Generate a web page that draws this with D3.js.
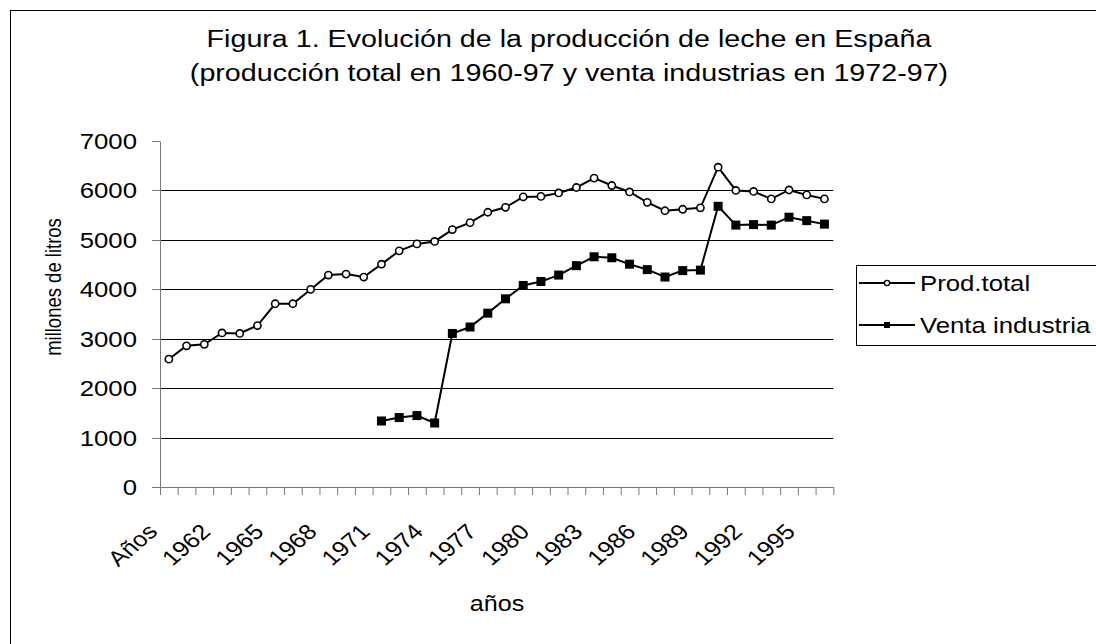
<!DOCTYPE html>
<html>
<head>
<meta charset="utf-8">
<script src="https://cdn.jsdelivr.net/npm/d3@7"></script>
<style>
  body { margin: 0; background: #fff; }
  svg { display: block; }
</style>
</head>
<body>
<div id="chart"></div>
<script>
// categories as they appear on the axis (label row starts one cell early, as in the original sheet)
const categories = ["Años", "1960", "1961", "1962", "1963", "1964", "1965", "1966", "1967", "1968",
  "1969", "1970", "1971", "1972", "1973", "1974", "1975", "1976", "1977", "1978",
  "1979", "1980", "1981", "1982", "1983", "1984", "1985", "1986", "1987", "1988",
  "1989", "1990", "1991", "1992", "1993", "1994", "1995", "1996"];

// millones de litros
const prodTotal = [2590, 2860, 2890, 3120, 3110, 3270, 3710, 3710, 4000, 4290,
  4310, 4250, 4510, 4780, 4920, 4970, 5210, 5350, 5560, 5660,
  5870, 5880, 5950, 6060, 6250, 6100, 5970, 5760, 5590, 5620,
  5650, 6470, 6000, 5980, 5830, 6010, 5910, 5830];

const ventaIndustria = [null, null, null, null, null, null, null, null, null, null,
  null, null, 1340, 1410, 1450, 1300, 3110, 3240, 3520, 3810,
  4080, 4160, 4290, 4480, 4660, 4640, 4510, 4400, 4250, 4380,
  4390, 5680, 5300, 5310, 5300, 5460, 5390, 5320];

const yTicks = [0, 1000, 2000, 3000, 4000, 5000, 6000, 7000];
const gridValues = [1000, 2000, 3000, 4000, 5000, 6000];
const labelEvery = 3;

const titleLines = ["Figura 1. Evolución de la producción de leche en España",
  "(producción total en 1960-97 y venta industrias en 1972-97)"];
const seriesNames = ["Prod.total", "Venta industria"];

// layout
const width = 1096, height = 644;
const plot = {left: 160, right: 833.3, top: 141, bottom: 487.3};
const SX = 1.17; // the source picture is a little wider than tall, text included
const font = "'Liberation Sans', Arial, sans-serif";

const svg = d3.select("#chart").append("svg")
  .attr("width", width)
  .attr("height", height)
  .style("font-family", font);

// chart frame (runs off the right and bottom edges)
svg.append("rect")
  .attr("x", 10.5).attr("y", 10.5)
  .attr("width", 1120).attr("height", 660)
  .attr("fill", "none").attr("stroke", "#000").attr("stroke-width", 1);

const x = d3.scaleLinear().domain([0, categories.length]).range([plot.left, plot.right]);
const y = d3.scaleLinear().domain([0, 7000]).range([plot.bottom, plot.top]);
const cx = i => x(i + 0.5);
const crisp = v => Math.round(v) + 0.5;

// stretched text helper
function label(g, px, py, str, size, anchor, rot) {
  return g.append("text")
    .attr("transform", `translate(${px},${py}) scale(${SX},1)` + (rot ? ` rotate(${rot})` : ""))
    .attr("text-anchor", anchor || "start")
    .attr("font-size", size)
    .attr("fill", "#000")
    .text(str);
}

// title
titleLines.forEach((t, i) => label(svg, 569, 47 + i * 34, t, 24.5, "middle"));

// gridlines
svg.append("g")
  .selectAll("line")
  .data(gridValues)
  .join("line")
    .attr("x1", plot.left).attr("x2", plot.right)
    .attr("y1", d => crisp(y(d))).attr("y2", d => crisp(y(d)))
    .attr("stroke", "#000").attr("stroke-width", 1);

// y axis
const yAxis = svg.append("g")
  .attr("transform", `translate(${crisp(plot.left) - 0.5},0)`)
  .call(d3.axisLeft(y).tickValues(yTicks).tickSize(8).tickSizeOuter(0).tickFormat(""));
yAxis.selectAll("path, line").attr("stroke", "#777");
yAxis.selectAll(".tick").attr("transform", d => `translate(0,${crisp(y(d))})`);

yTicks.forEach(v => label(svg, 137, y(v) + 8, v, 22, "end"));

// x axis
const xAxis = svg.append("g")
  .attr("transform", `translate(0,${crisp(plot.bottom) - 0.5})`)
  .call(d3.axisBottom(x).tickValues(d3.range(categories.length + 1)).tickSize(8).tickSizeOuter(0).tickFormat(""));
xAxis.selectAll("path, line").attr("stroke", "#777");

categories.forEach((c, i) => {
  if (i % labelEvery === 0) label(svg, cx(i) - 10, 533, c, 21.5, "end", -45);
});

// axis titles
label(svg, 53, 287, "millones de litros", 18.5, "middle", -90).attr("dy", "0.35em");
label(svg, 497, 611, "años", 21.5, "middle");

// series
const line = d3.line()
  .defined(d => d != null)
  .x((d, i) => cx(i))
  .y(d => y(d));

svg.append("path")
  .attr("fill", "none").attr("stroke", "#000").attr("stroke-width", 2)
  .attr("d", line(ventaIndustria));
svg.append("path")
  .attr("fill", "none").attr("stroke", "#000").attr("stroke-width", 2)
  .attr("d", line(prodTotal));

svg.append("g")
  .selectAll("rect")
  .data(ventaIndustria.map((v, i) => ({v, i})).filter(d => d.v != null))
  .join("rect")
    .attr("x", d => cx(d.i) - 4.5).attr("y", d => y(d.v) - 4.5)
    .attr("width", 9).attr("height", 9)
    .attr("fill", "#000");

svg.append("g")
  .selectAll("circle")
  .data(prodTotal)
  .join("circle")
    .attr("cx", (d, i) => cx(i)).attr("cy", d => y(d))
    .attr("r", 3.6)
    .attr("fill", "#fff").attr("stroke", "#000").attr("stroke-width", 1.6);

// legend
const legend = svg.append("g");
legend.append("rect")
  .attr("x", 856.5).attr("y", 265.5)
  .attr("width", 300).attr("height", 80)
  .attr("fill", "#fff").attr("stroke", "#000");

seriesNames.forEach((name, i) => {
  const ly = 283 + i * 42;
  legend.append("line")
    .attr("x1", 859).attr("x2", 915).attr("y1", ly).attr("y2", ly)
    .attr("stroke", "#000").attr("stroke-width", 2);
  if (i === 0) {
    legend.append("circle").attr("cx", 887).attr("cy", ly).attr("r", 2.6)
      .attr("fill", "#fff").attr("stroke", "#000").attr("stroke-width", 1.4);
  } else {
    legend.append("rect").attr("x", 884).attr("y", ly - 3).attr("width", 6).attr("height", 6)
      .attr("fill", "#000");
  }
  label(legend, 920, ly + 8, name, 22, "start");
});
</script>
</body>
</html>
